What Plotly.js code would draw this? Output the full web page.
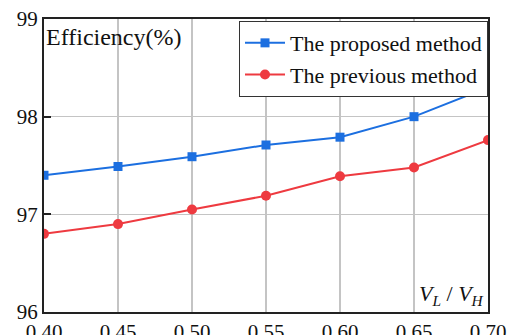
<!DOCTYPE html>
<html>
<head>
<meta charset="utf-8">
<script src="https://cdn.plot.ly/plotly-3.0.1.min.js"></script>
<style>
html,body{margin:0;padding:0;background:#fff;font-family:'Liberation Serif',serif;}
#chart{width:512px;height:335px;}
#warm{position:absolute;left:-1000px;top:0;font-family:'Liberation Serif';font-size:22px;}
</style>
</head>
<body>
<div id="warm">The proposed method 0.45 <i>V H L</i></div>
<div id="chart"></div>
<script>
var ratio = [0.40, 0.45, 0.50, 0.55, 0.60, 0.65, 0.70];
var proposed = [97.40, 97.49, 97.59, 97.71, 97.79, 98.00, 98.30];
var previous = [96.80, 96.90, 97.05, 97.19, 97.39, 97.48, 97.76];
var seriesNames = ["The proposed method", "The previous method"];
var xTickVals = [0.40, 0.45, 0.50, 0.55, 0.60, 0.65, 0.70];
var xTickText = ["0.40", "0.45", "0.50", "0.55", "0.60", "0.65", "0.70"];
var yTickVals = [96, 97, 98, 99];

var FONT = "Liberation Serif";

var traces = [
  {x: ratio, y: proposed, name: seriesNames[0], type: "scatter", mode: "lines+markers",
   line: {color: "#1c6fe0", width: 2}, marker: {symbol: "square", size: 9, color: "#1c6fe0"}},
  {x: ratio, y: previous, name: seriesNames[1], type: "scatter", mode: "lines+markers",
   line: {color: "#ee3a40", width: 2}, marker: {symbol: "circle", size: 10, color: "#ee3a40"}}
];

var layout = {
  width: 512, height: 335,
  margin: {l: 44, r: 24, t: 19, b: 23},
  paper_bgcolor: "#fff", plot_bgcolor: "#fff",
  font: {family: FONT, size: 20, color: "#111"},
  showlegend: true,
  legend: {x: 1, xanchor: "right", xref: "paper", y: 0.993, yanchor: "top",
    bgcolor: "#fff", bordercolor: "#333", borderwidth: 1,
    font: {family: FONT, size: 22, color: "#111"}, tracegroupgap: 0,
    itemwidth: 40},
  xaxis: {range: [0.40, 0.70], tickvals: xTickVals, ticktext: xTickText,
    showgrid: true, gridcolor: "#c4c4c4", gridwidth: 1.5,
    showline: true, linecolor: "#222", linewidth: 2, mirror: true,
    ticks: "", zeroline: false, tickfont: {family: FONT, size: 21, color: "#111"}},
  yaxis: {range: [96, 99], tickvals: yTickVals,
    showgrid: true, gridcolor: "#c4c4c4", gridwidth: 1.5,
    showline: true, linecolor: "#222", linewidth: 2, mirror: true,
    ticks: "inside", ticklen: 7, tickwidth: 2, tickcolor: "#222",
    zeroline: false, tickfont: {family: FONT, size: 21, color: "#111"}},
  annotations: [
    {text: "Efficiency(%)", xref: "paper", yref: "paper", x: 0, y: 0.99,
     xanchor: "left", yanchor: "top", showarrow: false,
     font: {family: FONT, size: 24, color: "#111"}},
    {text: "<i>V</i><sub><i>L</i></sub> / <i>V</i><sub><i>H</i></sub>", xref: "paper", yref: "paper", x: 0.995, y: 0.005,
     xanchor: "right", yanchor: "bottom", showarrow: false,
     font: {family: FONT, size: 22, color: "#111"}}
  ]
};

function draw() {
  Plotly.newPlot("chart", traces, layout, {displayModeBar: false, staticPlot: true});
}
if (document.fonts && document.fonts.load) {
  Promise.all([
    document.fonts.load("22px 'Liberation Serif'"),
    document.fonts.load("italic 22px 'Liberation Serif'")
  ]).then(draw, draw);
} else { draw(); }
</script>
</body>
</html>
